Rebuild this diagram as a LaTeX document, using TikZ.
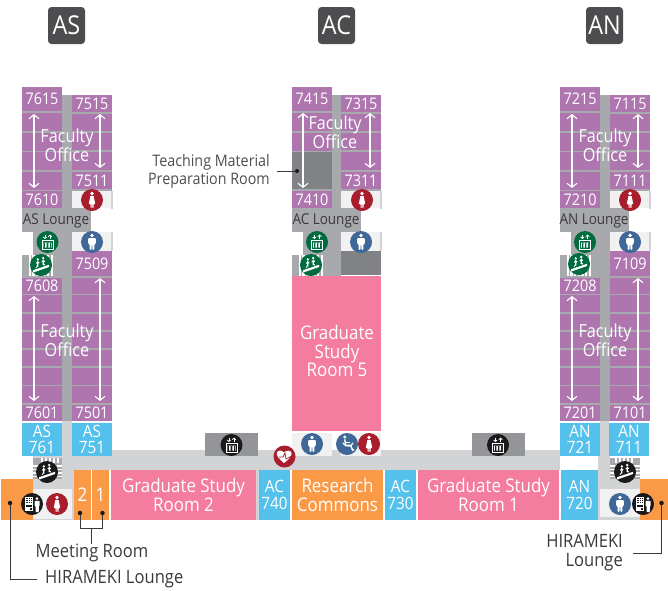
\documentclass[tikz,border=0pt]{standalone}
\usepackage{fontspec}
\setmainfont{Open Sans}[FakeStretch=0.9]
\usetikzlibrary{arrows.meta}
\definecolor{purp}{HTML}{AE75AF}
\definecolor{spine}{HTML}{A7A9AC}
\definecolor{lightg}{HTML}{D1D3D4}
\definecolor{pale}{HTML}{F1F1F2}
\definecolor{skyb}{HTML}{54C1EC}
\definecolor{orng}{HTML}{FA9A47}
\definecolor{pinkr}{HTML}{F47C9E}
\definecolor{dkg}{HTML}{808285}
\definecolor{elevg}{HTML}{939598}
\definecolor{badge}{HTML}{4D4D4F}
\definecolor{manb}{HTML}{3F6797}
\definecolor{womr}{HTML}{A81E2D}
\definecolor{greeni}{HTML}{006B3F}
\definecolor{blk}{HTML}{1A1A1A}
\definecolor{inkc}{HTML}{3A3A3C}
\tikzset{
  numtext/.style={text=white,inner sep=0pt,font=\fontsize{16}{16}\selectfont},
  fac/.style={text=white,inner sep=0pt,align=center,font=\fontsize{18}{19}\selectfont},
  blu/.style={text=white,inner sep=0pt,align=center,font=\fontsize{17}{16.5}\selectfont},
  big/.style={text=white,inner sep=0pt,align=center,font=\fontsize{18.8}{18.7}\selectfont},
  lounge/.style={text=inkc,inner sep=0pt,font=\fontsize{15}{15}\selectfont},
  note/.style={text=inkc,inner sep=0pt,font=\fontsize{18.4}{19}\selectfont},
  noteb/.style={text=badge,inner sep=0pt,font=\fontsize{15.9}{18}\selectfont},
  badgebox/.style={fill=badge,rounded corners=3.5pt,text=white,minimum size=37pt,inner sep=0pt,font=\fontsize{26}{26}\selectfont},
  dbl/.style={draw=white,line width=1.1pt,{Straight Barb[length=4pt,width=10pt]}-{Straight Barb[length=4pt,width=10pt]}},
  leader/.style={draw=inkc,line width=0.8pt},
  dot/.style={circle,fill=blk,minimum size=4.5pt,inner sep=0pt}
}
% \Room{name}{fill}{x1}{y1}{x2}{y2}{style}{text}
\newcommand\Room[8]{\fill[#2] (#3,#4) rectangle (#5,#6);
  \node[#7] (#1) at ({(#3+#5)/2},{(#4+#6)/2}) {#8};}
\newcommand\Blk[5]{\fill[#1] (#2,#3) rectangle (#4,#5);}
\newcommand\ManIcon[1]{\begin{scope}[shift={#1}]
  \fill[manb] (0,0) circle[radius=11pt];
  \fill[white] (0,-6.6) circle[radius=1.9pt];
  \fill[white,rounded corners=1pt] (-3.8,-4) -- (3.8,-4) -- (3.8,2) -- (2.4,2) -- (2.4,8) -- (0.4,8) -- (0.3,2.5) -- (-0.3,2.5) -- (-0.4,8) -- (-2.4,8) -- (-2.4,2) -- (-3.8,2) -- cycle;
\end{scope}}
\newcommand\WomanIcon[1]{\begin{scope}[shift={#1}]
  \fill[womr] (0,0) circle[radius=11pt];
  \fill[white] (0,-6.6) circle[radius=1.9pt];
  \fill[white,rounded corners=0.6pt] (-1.6,-4.2) -- (1.6,-4.2) -- (2.2,-1) -- (3.3,4) -- (1.5,4) -- (1.5,8) -- (0.3,8) -- (0.3,4) -- (-0.3,4) -- (-0.3,8) -- (-1.5,8) -- (-1.5,4) -- (-3.3,4) -- (-2.2,-1) -- cycle;
\end{scope}}
\newcommand\ElevIcon[2]{\begin{scope}[shift={#1}]
  \fill[#2] (0,0) circle[radius=11pt];
  \draw[white,line width=0.8pt] (-5.6,-1.4) rectangle (5.6,7);
  \fill[white] (-4,0.5) rectangle (-1.6,5.6) (-1.1,0.5) rectangle (1.1,5.6) (1.6,0.5) rectangle (4,5.6);
  \draw[#2,line width=0.5pt] (-2.8,0.5) -- (-2.8,5.6) (0,0.5) -- (0,5.6) (2.8,0.5) -- (2.8,5.6);
  \draw[white,line width=0.8pt,-{Straight Barb[length=1.5pt,width=3.5pt]}] (-2.6,-7.4) -- (-2.6,-3);
  \draw[white,line width=0.8pt,-{Straight Barb[length=1.5pt,width=3.5pt]}] (2.6,-3) -- (2.6,-7.4);
\end{scope}}
\newcommand\StairIcon[2]{\begin{scope}[shift={#1}]
  \fill[#2] (0,0) circle[radius=11pt];
  \fill[white] (-8,5.2) -- (8,-0.2) -- (8,2) -- (-8,7.6) -- cycle;
  \fill[white] (-3.2,-5.6) circle[radius=1.3pt] (2.2,-7) circle[radius=1.3pt];
  \draw[white,line width=1.2pt] (-3.2,-4) -- (-3.2,1.5) (-4.8,-2) -- (-1.6,-2.4) (2.2,-5.4) -- (2.2,0) (0.6,-3.4) -- (3.8,-3.8);
  \draw[white,line width=0.7pt] (-3.2,-0.5) -- (-5,3) (2.2,-1.8) -- (4,0.4);
\end{scope}}
\newcommand\WheelIcon[1]{\begin{scope}[shift={#1}]
  \fill[manb] (0,0) circle[radius=11pt];
  \fill[white] (-2.2,-7) circle[radius=1.7pt];
  \draw[white,line width=1.4pt] (-2.2,-4.6) -- (-1.5,1.2) -- (3.6,1.2) -- (5.6,6.2) -- (7,5.6);
  \draw[white,line width=1.1pt] (-1.8,-1.6) -- (2.8,-1.6);
  \draw[white,line width=1.1pt] (-4.2,-1.2) arc[start angle=200,end angle=340,x radius=5.4pt,y radius=5.4pt];
\end{scope}}
\newcommand\VendIcon[1]{\begin{scope}[shift={#1}]
  \fill[blk] (0,0) circle[radius=11pt];
  \fill[white] (-7,-7.4) rectangle (1,7.4);
  \foreach \yy in {-6.2,-4.1,-2}{\foreach \xx in {-5.7,-3.4,-1.1}{\fill[blk] (\xx,\yy) rectangle +(1.5,1.3);}}
  \fill[blk] (-5.7,1) rectangle (-0.2,3.4);
  \fill[blk] (-2.4,4.4) rectangle (-0.2,6.2);
  \fill[white] (5,-5.4) circle[radius=1.6pt];
  \fill[white,rounded corners=0.6pt] (2.6,-3.2) -- (7.6,-3.2) -- (7.6,2) -- (6.8,2) -- (6.8,8) -- (3.6,8) -- (3.6,2) -- (2.6,2) -- cycle;
\end{scope}}
\newcommand\StripesV[4]{\fill[white] (#1,#2) rectangle (#3,#4);
  \foreach \xx in {1,...,6}{\fill[spine] ({#1+(\xx-0.5)*(#3-#1)/6.5},#2) rectangle +(1.5,{#4-#2});}}
% \UpperRows{offset}{x of right column's left edge, in wing coordinates}
\newcommand\UpperRows[2]{\begin{scope}[shift={(#1,0)}]
  \Blk{spine}{22}{111}{#2+40}{191}
  \Blk{spine}{62}{95}{#2}{232}
  \Blk{purp}{22}{113}{62}{131}
  \Blk{purp}{22}{133}{62}{151}
  \Blk{purp}{#2}{114}{#2+40}{131}
  \Blk{purp}{#2}{133}{#2+40}{150}
  \Blk{purp}{#2}{152}{#2+40}{170}
  \Blk{spine}{22}{208}{91}{232}
  \Blk{spine}{33}{232}{62}{255}
  \Blk{spine}{62}{232}{#2}{276}
  \Blk{spine}{22}{255}{62}{276}
  \StripesV{29}{255}{53}{276}
  \Blk{pale}{#2}{191}{#2+40}{208}
  \Blk{lightg}{#2+39}{191}{#2+40.5}{208.5}
  \Blk{pale}{#2}{232}{#2+40}{251}
  \Blk{lightg}{#2+39}{232}{#2+40.5}{251}
\end{scope}}
\newcommand\LowerRows[1]{\begin{scope}[shift={(#1,0)}]
  \Blk{spine}{22}{276}{112}{405}
  \foreach \ya/\yb in {295/312,313.5/330,331.5/348,349.5/366,368/385,386/403}{
    \Blk{purp}{22}{\ya}{62}{\yb}
    \Blk{purp}{72}{\ya}{112}{\yb}}
  \Blk{purp}{72}{278}{112}{293.5}
  \Blk{spine}{62}{405}{72}{421}
\end{scope}}
\begin{document}
\begin{tikzpicture}[x=1pt,y=-1pt]
\useasboundingbox (0,0) rectangle (668,590);
% corridors
\Blk{lightg}{112}{450}{560}{470}
\Blk{lightg}{62}{421}{72}{470}
\Blk{lightg}{33}{456}{74}{520}
\Blk{lightg}{72}{450}{112}{470}
\Blk{lightg}{600}{421}{609}{470}
\Blk{lightg}{598}{456}{610}{470}
\Blk{lightg}{598}{470}{640}{520}
\Blk{lightg}{256}{470}{259}{520}
% badges
\node[badgebox] (bAS) at (66.5,25.5) {AS};
\node[badgebox] (bAC) at (336.5,25.5) {AC};
\node[badgebox] (bAN) at (604.5,25.5) {AN};
% upper blocks
\UpperRows{0}{72}
\UpperRows{270}{71}
\UpperRows{538}{72}
% AC dark rooms and Room 5
\Blk{dkg}{292}{152}{332}{189}
\Blk{dkg}{341}{251}{381}{275}
\Room{gs5}{pinkr}{292}{276}{381}{431}{big}{}
\foreach \ox in {0,538}{\Blk{purp}{\ox+22}{152}{\ox+62}{170}\Blk{purp}{\ox+22}{172}{\ox+62}{190}}
% lower blocks
\LowerRows{0}
\LowerRows{538}
% numbered rooms
\Room{r7615}{purp}{22}{87}{62}{111}{numtext}{7615}
\Room{r7515}{purp}{72}{95}{112}{112}{numtext}{7515}
\Room{r7511}{purp}{72}{172}{112}{189}{numtext}{7511}
\Room{r7610}{purp}{22}{191}{62}{208}{numtext}{7610}
\Room{r7509}{purp}{72}{251}{112}{276}{numtext}{7509}
\Room{r7608}{purp}{22}{278}{62}{293.5}{numtext}{7608}
\Room{r7601}{purp}{22}{405}{62}{421}{numtext}{7601}
\Room{r7501}{purp}{72}{405}{112}{421}{numtext}{7501}
\Room{r7415}{purp}{292}{87}{332}{111}{numtext}{7415}
\Room{r7315}{purp}{341}{95}{381}{112}{numtext}{7315}
\Room{r7311}{purp}{341}{172}{381}{189}{numtext}{7311}
\Room{r7410}{purp}{292}{191}{332}{208}{numtext}{7410}
\Room{r7215}{purp}{560}{87}{600}{111}{numtext}{7215}
\Room{r7115}{purp}{610}{95}{650}{112}{numtext}{7115}
\Room{r7111}{purp}{610}{172}{650}{189}{numtext}{7111}
\Room{r7210}{purp}{560}{191}{600}{208}{numtext}{7210}
\Room{r7109}{purp}{610}{251}{650}{276}{numtext}{7109}
\Room{r7208}{purp}{560}{278}{600}{293.5}{numtext}{7208}
\Room{r7201}{purp}{560}{405}{600}{421}{numtext}{7201}
\Room{r7101}{purp}{610}{405}{650}{421}{numtext}{7101}
% blue rooms
\Room{r761}{skyb}{22}{423}{62}{456}{blu}{AS\\761}
\Room{r751}{skyb}{72}{423}{112}{456}{blu}{AS\\751}
\Room{r721}{skyb}{560}{423}{600}{456}{blu}{AN\\721}
\Room{r711}{skyb}{609}{423}{649}{456}{blu}{AN\\711}
\Room{r740}{skyb}{259}{470}{290}{520}{blu}{AC\\740}
\Room{r730}{skyb}{385}{470}{416}{520}{blu}{AC\\730}
\Room{r720}{skyb}{561}{470}{598}{520}{blu}{AN\\720}
% bottom row
\Room{gs2}{pinkr}{111}{470}{256}{520}{big}{Graduate Study\\Room 2}
\Room{gs1}{pinkr}{418}{470}{559}{520}{big}{Graduate Study\\Room 1}
\Room{rc}{orng}{292}{470}{383}{520}{big}{Research\\Commons}
\Room{mr2}{orng}{74}{470}{91}{520}{big}{2}
\Room{mr1}{orng}{92}{470}{109}{520}{big}{1}
\Blk{orng}{1}{479}{33}{520}
\Blk{orng}{640}{479}{668}{520}
\Blk{pale}{33}{489}{72}{519}
\Blk{pale}{600}{489}{640}{517}
% Room 5 label
\node[big] (gs5t) at (337,351) {Graduate\\Study\\Room 5};
% Faculty Office labels
\node[fac] (foA) at (67,145.5) {Faculty\\Office};
\node[fac] (foB) at (67,340.5) {Faculty\\Office};
\node[fac] (foC) at (335,132.5) {Faculty\\Office};
\node[fac] (foD) at (605,145.5) {Faculty\\Office};
\node[fac] (foE) at (605,340.5) {Faculty\\Office};
% lounge labels
\node[lounge] (lAS) at (56,221) {AS Lounge};
\node[lounge] (lAC) at (326,221) {AC Lounge};
\node[lounge] (lAN) at (594,221) {AN Lounge};
% double arrows
\coordinate (a1) at (34,114); \coordinate (a2) at (34,188); \draw[dbl] (a1) -- (a2);
\coordinate (a3) at (100,114); \coordinate (a4) at (100,168); \draw[dbl] (a3) -- (a4);
\coordinate (a5) at (34,296); \coordinate (a6) at (34,401); \draw[dbl] (a5) -- (a6);
\coordinate (a7) at (100,278); \coordinate (a8) at (100,401); \draw[dbl] (a7) -- (a8);
\coordinate (a9) at (303,113); \coordinate (a10) at (303,188); \draw[dbl] (a9) -- (a10);
\coordinate (a11) at (370,113); \coordinate (a12) at (370,168); \draw[dbl] (a11) -- (a12);
\coordinate (a13) at (572,114); \coordinate (a14) at (572,188); \draw[dbl] (a13) -- (a14);
\coordinate (a15) at (638,114); \coordinate (a16) at (638,168); \draw[dbl] (a15) -- (a16);
\coordinate (a17) at (572,296); \coordinate (a18) at (572,401); \draw[dbl] (a17) -- (a18);
\coordinate (a19) at (638,278); \coordinate (a20) at (638,401); \draw[dbl] (a19) -- (a20);
% wing icons
\WomanIcon{(92,200)} \ManIcon{(92,242)} \ElevIcon{(47.5,242)}{greeni} \StairIcon{(41,265)}{greeni}
\WomanIcon{(362,200)} \ManIcon{(361,242)} \ElevIcon{(317,242)}{greeni} \StairIcon{(311,265)}{greeni}
\WomanIcon{(630,200)} \ManIcon{(630,242)} \ElevIcon{(585,242)}{greeni} \StairIcon{(579,264)}{greeni}
% corridor elevators
\Blk{elevg}{205}{433}{258}{456}
\Blk{elevg}{472}{433}{525}{456}
\ElevIcon{(231.5,445)}{blk}
\ElevIcon{(498,445)}{blk}
% Room 5 facilities
\Blk{pale}{292}{433}{332}{456}
\Blk{pale}{341}{433}{358}{456}
\Blk{pale}{358}{433}{381}{456}
\ManIcon{(312,444)} \WheelIcon{(347,444)} \WomanIcon{(369,444)}
% AED
\fill[womr] (284.5,456.5) circle[radius=11pt];
\fill[white] (284,463) .. controls (278,458) and (276,455) .. (277,452.5) .. controls (278,450) and (282,450) .. (284,452.5) .. controls (286,450) and (291,450) .. (291.5,453) .. controls (292,456) and (289,459) .. (284,463) -- cycle;
\draw[womr,line width=0.7pt] (279,457) -- (283,457) -- (285,453) -- (286,459) -- (293,455);
% lower stairs
\Blk{spine}{33}{458}{62}{479}
\foreach \yy in {465,468.5,472,475.5}{\Blk{white}{33}{\yy}{38}{\yy+1.6}\Blk{white}{57}{\yy}{62}{\yy+1.6}}
\foreach \xx in {41,45,49,53,57}{\Blk{white}{\xx}{458}{\xx+1.8}{463}}
\Blk{spine}{610}{458}{640}{479}
\foreach \yy in {465,468.5,472,475.5}{\Blk{white}{610}{\yy}{615}{\yy+1.6}\Blk{white}{634}{\yy}{640}{\yy+1.6}}
\foreach \xx in {615,619,623,627,631}{\Blk{white}{\xx}{458}{\xx+1.8}{463}}
\StairIcon{(47,472)}{blk}
\StairIcon{(625,472)}{blk}
% bottom facilities
\VendIcon{(32,504)} \WomanIcon{(57,504)}
\ManIcon{(620,504)} \VendIcon{(643,504)}
% Meeting Room leaders
\node[dot] (dm2) at (80,513) {};
\node[dot] (dm1) at (102.5,513) {};
\coordinate (mj2) at (80,528);
\coordinate (mj1) at (102.5,528);
\coordinate (mjc) at (91,528);
\coordinate (mje) at (91,544);
\node[note] (mtext) at (92,553) {Meeting Room};
\draw[leader] (dm2) -- (mj2) -- (mj1) -- (dm1);
\draw[leader] (mjc) -- (mje);
% HIRAMEKI left
\node[dot] (dh1) at (10,503) {};
\node[note,anchor=west] (htext) at (45,579) {HIRAMEKI Lounge};
\coordinate (hj1) at (10,579);
\coordinate (he1) at (37,579);
\draw[leader] (dh1) -- (hj1) -- (he1);
% HIRAMEKI right
\node[dot] (dh2) at (661.5,503) {};
\node[note,align=right,anchor=east] (htext2) at (623,552.5) {HIRAMEKI\\Lounge};
\coordinate (hj2) at (661.5,553);
\coordinate (he2) at (633,553);
\draw[leader] (dh2) -- (hj2) -- (he2);
% Teaching material
\node[noteb,align=right,anchor=east] (tm) at (270,171) {Teaching Material\\Preparation Room};
\node[dot,minimum size=4pt] (dt) at (297,171) {};
\coordinate (te) at (277,171);
\draw[leader] (te) -- (dt);
\end{tikzpicture}
\end{document}
